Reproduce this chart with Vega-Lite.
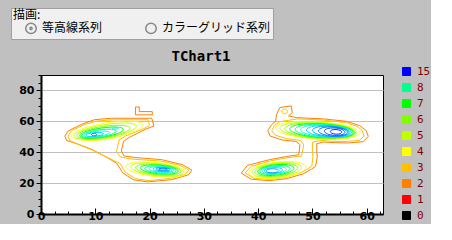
{
 "$schema": "https://vega.github.io/schema/vega-lite/v6.json",
 "background": "#c0c0c0",
 "padding": {"left": 10, "top": 7, "right": 0, "bottom": 0},
 "width": 342,
 "height": 139,
 "title": {"text": "TChart1", "font": "DejaVu Sans Mono", "fontSize": 14, "fontWeight": "bold", "color": "black", "offset": -56, "anchor": "middle", "frame": "group", "dx": -11},
 "view": {"stroke": "black", "strokeWidth": 1, "fill": "white"},
 "datasets": {
  "env": [
   {"r":"EL2","lv":2,"x":4.4,"y":50.5},{"r":"EL2","lv":2,"x":5.0,"y":53.8},{"r":"EL2","lv":2,"x":7.5,"y":58.1},{"r":"EL2","lv":2,"x":9.9,"y":61.1},{"r":"EL2","lv":2,"x":13.0,"y":62.0},{"r":"EL2","lv":2,"x":20.4,"y":62.0},{"r":"EL2","lv":2,"x":20.8,"y":57.0},{"r":"EL2","lv":2,"x":19.2,"y":54.8},{"r":"EL2","lv":2,"x":16.2,"y":49.5},{"r":"EL2","lv":2,"x":15.2,"y":47.0},{"r":"EL2","lv":2,"x":14.8,"y":40.8},{"r":"EL2","lv":2,"x":15.3,"y":37.6},{"r":"EL2","lv":2,"x":17.3,"y":36.6},{"r":"EL2","lv":2,"x":22.2,"y":35.2},{"r":"EL2","lv":2,"x":26.0,"y":32.0},{"r":"EL2","lv":2,"x":27.8,"y":28.4},{"r":"EL2","lv":2,"x":27.2,"y":25.4},{"r":"EL2","lv":2,"x":24.0,"y":22.2},{"r":"EL2","lv":2,"x":19.7,"y":20.8},{"r":"EL2","lv":2,"x":17.0,"y":22.2},{"r":"EL2","lv":2,"x":15.1,"y":26.5},{"r":"EL2","lv":2,"x":13.9,"y":33.0},{"r":"EL2","lv":2,"x":11.7,"y":37.5},{"r":"EL2","lv":2,"x":9.3,"y":41.9},{"r":"EL2","lv":2,"x":6.9,"y":45.1},{"r":"EL2","lv":2,"x":4.7,"y":47.7},
   {"r":"EL3","lv":3,"x":5.0,"y":50.4},{"r":"EL3","lv":3,"x":5.6,"y":53.9},{"r":"EL3","lv":3,"x":7.8,"y":57.6},{"r":"EL3","lv":3,"x":10.2,"y":60.2},{"r":"EL3","lv":3,"x":13.2,"y":61.0},{"r":"EL3","lv":3,"x":19.7,"y":61.0},{"r":"EL3","lv":3,"x":20.0,"y":57.4},{"r":"EL3","lv":3,"x":19.0,"y":55.3},{"r":"EL3","lv":3,"x":15.6,"y":50.6},{"r":"EL3","lv":3,"x":14.4,"y":48.0},{"r":"EL3","lv":3,"x":13.9,"y":40.6},{"r":"EL3","lv":3,"x":14.6,"y":37.0},{"r":"EL3","lv":3,"x":16.6,"y":35.6},{"r":"EL3","lv":3,"x":22.0,"y":34.3},{"r":"EL3","lv":3,"x":25.6,"y":31.5},{"r":"EL3","lv":3,"x":27.2,"y":28.4},{"r":"EL3","lv":3,"x":26.7,"y":25.8},{"r":"EL3","lv":3,"x":23.8,"y":23.0},{"r":"EL3","lv":3,"x":19.8,"y":21.6},{"r":"EL3","lv":3,"x":17.4,"y":22.9},{"r":"EL3","lv":3,"x":15.6,"y":26.8},{"r":"EL3","lv":3,"x":14.6,"y":32.6},{"r":"EL3","lv":3,"x":12.0,"y":37.0},{"r":"EL3","lv":3,"x":9.6,"y":41.2},{"r":"EL3","lv":3,"x":7.2,"y":44.6},{"r":"EL3","lv":3,"x":5.3,"y":47.5},
   {"r":"ELB","lv":2,"x":17.4,"y":64.2},{"r":"ELB","lv":2,"x":17.4,"y":69.3},{"r":"ELB","lv":2,"x":18.1,"y":69.3},{"r":"ELB","lv":2,"x":18.1,"y":66.3},{"r":"ELB","lv":2,"x":20.5,"y":66.3},{"r":"ELB","lv":2,"x":20.5,"y":64.2},
   {"r":"ER2","lv":2,"x":41.8,"y":54.0},{"r":"ER2","lv":2,"x":42.4,"y":57.5},{"r":"ER2","lv":2,"x":43.2,"y":60.0},{"r":"ER2","lv":2,"x":43.4,"y":64.6},{"r":"ER2","lv":2,"x":44.0,"y":68.9},{"r":"ER2","lv":2,"x":46.1,"y":70.0},{"r":"ER2","lv":2,"x":46.3,"y":65.6},{"r":"ER2","lv":2,"x":45.6,"y":63.5},{"r":"ER2","lv":2,"x":47.1,"y":62.4},{"r":"ER2","lv":2,"x":52.0,"y":61.6},{"r":"ER2","lv":2,"x":56.3,"y":60.0},{"r":"ER2","lv":2,"x":58.7,"y":57.2},{"r":"ER2","lv":2,"x":59.9,"y":54.0},{"r":"ER2","lv":2,"x":60.3,"y":50.2},{"r":"ER2","lv":2,"x":59.3,"y":46.8},{"r":"ER2","lv":2,"x":56.6,"y":46.0},{"r":"ER2","lv":2,"x":54.1,"y":46.2},{"r":"ER2","lv":2,"x":52.0,"y":46.6},{"r":"ER2","lv":2,"x":50.8,"y":45.5},{"r":"ER2","lv":2,"x":50.8,"y":39.7},{"r":"ER2","lv":2,"x":50.9,"y":37.5},{"r":"ER2","lv":2,"x":50.6,"y":31.0},{"r":"ER2","lv":2,"x":49.8,"y":29.0},{"r":"ER2","lv":2,"x":48.3,"y":26.0},{"r":"ER2","lv":2,"x":45.2,"y":22.8},{"r":"ER2","lv":2,"x":42.1,"y":21.6},{"r":"ER2","lv":2,"x":38.7,"y":22.5},{"r":"ER2","lv":2,"x":36.9,"y":26.5},{"r":"ER2","lv":2,"x":38.0,"y":31.4},{"r":"ER2","lv":2,"x":42.1,"y":35.2},{"r":"ER2","lv":2,"x":45.2,"y":37.2},{"r":"ER2","lv":2,"x":47.5,"y":38.4},{"r":"ER2","lv":2,"x":47.7,"y":45.0},{"r":"ER2","lv":2,"x":47.0,"y":47.0},{"r":"ER2","lv":2,"x":44.4,"y":47.9},{"r":"ER2","lv":2,"x":42.2,"y":50.5},
   {"r":"ER3","lv":3,"x":42.5,"y":54.0},{"r":"ER3","lv":3,"x":43.0,"y":57.3},{"r":"ER3","lv":3,"x":44.0,"y":59.8},{"r":"ER3","lv":3,"x":47.3,"y":61.6},{"r":"ER3","lv":3,"x":52.0,"y":60.8},{"r":"ER3","lv":3,"x":56.0,"y":59.3},{"r":"ER3","lv":3,"x":58.2,"y":56.8},{"r":"ER3","lv":3,"x":59.2,"y":54.0},{"r":"ER3","lv":3,"x":59.5,"y":50.4},{"r":"ER3","lv":3,"x":58.6,"y":47.6},{"r":"ER3","lv":3,"x":56.5,"y":47.0},{"r":"ER3","lv":3,"x":54.0,"y":47.0},{"r":"ER3","lv":3,"x":51.6,"y":47.6},{"r":"ER3","lv":3,"x":50.0,"y":46.6},{"r":"ER3","lv":3,"x":50.0,"y":39.5},{"r":"ER3","lv":3,"x":50.1,"y":37.5},{"r":"ER3","lv":3,"x":49.9,"y":31.2},{"r":"ER3","lv":3,"x":49.2,"y":29.3},{"r":"ER3","lv":3,"x":47.8,"y":26.6},{"r":"ER3","lv":3,"x":45.0,"y":23.6},{"r":"ER3","lv":3,"x":42.1,"y":22.4},{"r":"ER3","lv":3,"x":39.2,"y":23.2},{"r":"ER3","lv":3,"x":37.6,"y":26.6},{"r":"ER3","lv":3,"x":38.7,"y":30.8},{"r":"ER3","lv":3,"x":42.3,"y":34.4},{"r":"ER3","lv":3,"x":45.3,"y":36.4},{"r":"ER3","lv":3,"x":48.0,"y":37.6},{"r":"ER3","lv":3,"x":48.4,"y":44.8},{"r":"ER3","lv":3,"x":47.8,"y":47.6},{"r":"ER3","lv":3,"x":45.2,"y":48.8},{"r":"ER3","lv":3,"x":43.2,"y":51.0}
  ],
  "rings": [
   {"r":"A4","lv":4,"x":18.8,"y":57.63},{"r":"A4","lv":4,"x":16.89,"y":60.12},{"r":"A4","lv":4,"x":12.2,"y":59.0},{"r":"A4","lv":4,"x":7.51,"y":54.98},{"r":"A4","lv":4,"x":5.6,"y":50.37},{"r":"A4","lv":4,"x":7.51,"y":47.88},{"r":"A4","lv":4,"x":12.2,"y":48.4},{"r":"A4","lv":4,"x":16.89,"y":53.02},
   {"r":"A5","lv":5,"x":17.6,"y":56.76},{"r":"A5","lv":5,"x":15.93,"y":58.9},{"r":"A5","lv":5,"x":11.85,"y":57.9},{"r":"A5","lv":5,"x":7.77,"y":54.4},{"r":"A5","lv":5,"x":6.1,"y":50.44},{"r":"A5","lv":5,"x":7.77,"y":48.3},{"r":"A5","lv":5,"x":11.85,"y":48.9},{"r":"A5","lv":5,"x":15.93,"y":52.8},
   {"r":"A6","lv":6,"x":16.4,"y":55.55},{"r":"A6","lv":6,"x":14.98,"y":57.4},{"r":"A6","lv":6,"x":11.5,"y":56.7},{"r":"A6","lv":6,"x":8.02,"y":53.92},{"r":"A6","lv":6,"x":6.6,"y":50.65},{"r":"A6","lv":6,"x":8.02,"y":48.8},{"r":"A6","lv":6,"x":11.5,"y":49.3},{"r":"A6","lv":6,"x":14.98,"y":52.28},
   {"r":"A7","lv":7,"x":15.2,"y":54.73},{"r":"A7","lv":7,"x":14.03,"y":56.27},{"r":"A7","lv":7,"x":11.15,"y":55.7},{"r":"A7","lv":7,"x":8.27,"y":53.39},{"r":"A7","lv":7,"x":7.1,"y":50.67},{"r":"A7","lv":7,"x":8.27,"y":49.13},{"r":"A7","lv":7,"x":11.15,"y":49.6},{"r":"A7","lv":7,"x":14.03,"y":52.01},
   {"r":"A8","lv":8,"x":13.9,"y":53.64},{"r":"A8","lv":8,"x":12.97,"y":54.85},{"r":"A8","lv":8,"x":10.7,"y":54.5},{"r":"A8","lv":8,"x":8.43,"y":52.81},{"r":"A8","lv":8,"x":7.5,"y":50.76},{"r":"A8","lv":8,"x":8.43,"y":49.55},{"r":"A8","lv":8,"x":10.7,"y":49.9},{"r":"A8","lv":8,"x":12.97,"y":51.59},
   {"r":"A9","lv":9,"x":12.6,"y":52.74},{"r":"A9","lv":9,"x":11.92,"y":53.68},{"r":"A9","lv":9,"x":10.25,"y":53.5},{"r":"A9","lv":9,"x":8.58,"y":52.34},{"r":"A9","lv":9,"x":7.9,"y":50.86},{"r":"A9","lv":9,"x":8.58,"y":49.92},{"r":"A9","lv":9,"x":10.25,"y":50.15},{"r":"A9","lv":9,"x":11.92,"y":51.26},
   {"r":"A10","lv":10,"x":11.5,"y":51.98},{"r":"A10","lv":10,"x":11.04,"y":52.69},{"r":"A10","lv":10,"x":9.9,"y":52.7},{"r":"A10","lv":10,"x":8.76,"y":52.01},{"r":"A10","lv":10,"x":8.3,"y":51.02},{"r":"A10","lv":10,"x":8.76,"y":50.31},{"r":"A10","lv":10,"x":9.9,"y":50.4},{"r":"A10","lv":10,"x":11.04,"y":50.99},
   {"r":"A12","lv":12,"x":10.3,"y":51.4},{"r":"A12","lv":12,"x":10.15,"y":51.95},{"r":"A12","lv":12,"x":9.8,"y":52.2},{"r":"A12","lv":12,"x":9.45,"y":51.95},{"r":"A12","lv":12,"x":9.3,"y":51.4},{"r":"A12","lv":12,"x":9.45,"y":50.85},{"r":"A12","lv":12,"x":9.8,"y":50.6},{"r":"A12","lv":12,"x":10.15,"y":50.85},
   {"r":"A9s","lv":9,"x":14.25,"y":55.4},{"r":"A9s","lv":9,"x":14.09,"y":55.68},{"r":"A9s","lv":9,"x":13.7,"y":55.8},{"r":"A9s","lv":9,"x":13.31,"y":55.68},{"r":"A9s","lv":9,"x":13.15,"y":55.4},{"r":"A9s","lv":9,"x":13.31,"y":55.12},{"r":"A9s","lv":9,"x":13.7,"y":55.0},{"r":"A9s","lv":9,"x":14.09,"y":55.12},
   {"r":"B4","lv":4,"x":26.8,"y":26.84},{"r":"B4","lv":4,"x":25.18,"y":30.68},{"r":"B4","lv":4,"x":21.2,"y":33.4},{"r":"B4","lv":4,"x":17.22,"y":33.46},{"r":"B4","lv":4,"x":15.6,"y":30.76},{"r":"B4","lv":4,"x":17.22,"y":26.92},{"r":"B4","lv":4,"x":21.2,"y":24.2},{"r":"B4","lv":4,"x":25.18,"y":24.14},
   {"r":"B5","lv":5,"x":26.3,"y":27.08},{"r":"B5","lv":5,"x":24.88,"y":30.42},{"r":"B5","lv":5,"x":21.4,"y":32.8},{"r":"B5","lv":5,"x":17.92,"y":32.86},{"r":"B5","lv":5,"x":16.5,"y":30.52},{"r":"B5","lv":5,"x":17.92,"y":27.18},{"r":"B5","lv":5,"x":21.4,"y":24.8},{"r":"B5","lv":5,"x":24.88,"y":24.74},
   {"r":"B6","lv":6,"x":25.8,"y":27.54},{"r":"B6","lv":6,"x":24.58,"y":30.32},{"r":"B6","lv":6,"x":21.6,"y":32.2},{"r":"B6","lv":6,"x":18.62,"y":32.1},{"r":"B6","lv":6,"x":17.4,"y":30.06},{"r":"B6","lv":6,"x":18.62,"y":27.28},{"r":"B6","lv":6,"x":21.6,"y":25.4},{"r":"B6","lv":6,"x":24.58,"y":25.5},
   {"r":"B7","lv":7,"x":25.3,"y":27.75},{"r":"B7","lv":7,"x":24.29,"y":30.07},{"r":"B7","lv":7,"x":21.8,"y":31.65},{"r":"B7","lv":7,"x":19.31,"y":31.57},{"r":"B7","lv":7,"x":18.3,"y":29.85},{"r":"B7","lv":7,"x":19.31,"y":27.53},{"r":"B7","lv":7,"x":21.8,"y":25.95},{"r":"B7","lv":7,"x":24.29,"y":26.03},
   {"r":"B8","lv":8,"x":24.9,"y":28.07},{"r":"B8","lv":8,"x":24.06,"y":29.91},{"r":"B8","lv":8,"x":22.0,"y":31.1},{"r":"B8","lv":8,"x":19.94,"y":30.95},{"r":"B8","lv":8,"x":19.1,"y":29.53},{"r":"B8","lv":8,"x":19.94,"y":27.69},{"r":"B8","lv":8,"x":22.0,"y":26.5},{"r":"B8","lv":8,"x":24.06,"y":26.65},
   {"r":"B9","lv":9,"x":24.5,"y":28.34},{"r":"B9","lv":9,"x":23.83,"y":29.78},{"r":"B9","lv":9,"x":22.2,"y":30.65},{"r":"B9","lv":9,"x":20.57,"y":30.44},{"r":"B9","lv":9,"x":19.9,"y":29.26},{"r":"B9","lv":9,"x":20.57,"y":27.82},{"r":"B9","lv":9,"x":22.2,"y":26.95},{"r":"B9","lv":9,"x":23.83,"y":27.16},
   {"r":"B10","lv":10,"x":24.2,"y":28.53},{"r":"B10","lv":10,"x":23.68,"y":29.6},{"r":"B10","lv":10,"x":22.4,"y":30.2},{"r":"B10","lv":10,"x":21.12,"y":29.98},{"r":"B10","lv":10,"x":20.6,"y":29.07},{"r":"B10","lv":10,"x":21.12,"y":28.0},{"r":"B10","lv":10,"x":22.4,"y":27.4},{"r":"B10","lv":10,"x":23.68,"y":27.62},
   {"r":"B11","lv":11,"x":23.8,"y":28.77},{"r":"B11","lv":11,"x":23.42,"y":29.52},{"r":"B11","lv":11,"x":22.5,"y":29.9},{"r":"B11","lv":11,"x":21.58,"y":29.7},{"r":"B11","lv":11,"x":21.2,"y":29.03},{"r":"B11","lv":11,"x":21.58,"y":28.28},{"r":"B11","lv":11,"x":22.5,"y":27.9},{"r":"B11","lv":11,"x":23.42,"y":28.1},
   {"r":"B12","lv":12,"x":23.3,"y":29.0},{"r":"B12","lv":12,"x":23.07,"y":29.43},{"r":"B12","lv":12,"x":22.5,"y":29.6},{"r":"B12","lv":12,"x":21.93,"y":29.43},{"r":"B12","lv":12,"x":21.7,"y":29.0},{"r":"B12","lv":12,"x":21.93,"y":28.57},{"r":"B12","lv":12,"x":22.5,"y":28.4},{"r":"B12","lv":12,"x":23.07,"y":28.57},
   {"r":"C4","lv":4,"x":58.7,"y":52.65},{"r":"C4","lv":4,"x":56.45,"y":57.08},{"r":"C4","lv":4,"x":50.95,"y":59.8},{"r":"C4","lv":4,"x":45.45,"y":59.28},{"r":"C4","lv":4,"x":43.2,"y":55.75},{"r":"C4","lv":4,"x":45.45,"y":51.32},{"r":"C4","lv":4,"x":50.95,"y":48.6},{"r":"C4","lv":4,"x":56.45,"y":49.12},
   {"r":"C5","lv":5,"x":58.2,"y":52.68},{"r":"C5","lv":5,"x":56.14,"y":56.78},{"r":"C5","lv":5,"x":51.1,"y":59.3},{"r":"C5","lv":5,"x":46.06,"y":58.8},{"r":"C5","lv":5,"x":44.0,"y":55.52},{"r":"C5","lv":5,"x":46.06,"y":51.42},{"r":"C5","lv":5,"x":51.1,"y":48.9},{"r":"C5","lv":5,"x":56.14,"y":49.4},
   {"r":"C6","lv":6,"x":57.9,"y":52.7},{"r":"C6","lv":6,"x":56.02,"y":56.49},{"r":"C6","lv":6,"x":51.4,"y":58.8},{"r":"C6","lv":6,"x":46.78,"y":58.33},{"r":"C6","lv":6,"x":44.9,"y":55.3},{"r":"C6","lv":6,"x":46.78,"y":51.51},{"r":"C6","lv":6,"x":51.4,"y":49.2},{"r":"C6","lv":6,"x":56.02,"y":49.67},
   {"r":"C7","lv":7,"x":57.7,"y":52.71},{"r":"C7","lv":7,"x":55.97,"y":56.22},{"r":"C7","lv":7,"x":51.75,"y":58.35},{"r":"C7","lv":7,"x":47.53,"y":57.9},{"r":"C7","lv":7,"x":45.8,"y":55.09},{"r":"C7","lv":7,"x":47.53,"y":51.58},{"r":"C7","lv":7,"x":51.75,"y":49.45},{"r":"C7","lv":7,"x":55.97,"y":49.9},
   {"r":"C8","lv":8,"x":57.45,"y":52.73},{"r":"C8","lv":8,"x":55.91,"y":55.99},{"r":"C8","lv":8,"x":52.13,"y":57.95},{"r":"C8","lv":8,"x":48.35,"y":57.51},{"r":"C8","lv":8,"x":46.8,"y":54.87},{"r":"C8","lv":8,"x":48.35,"y":51.61},{"r":"C8","lv":8,"x":52.13,"y":49.65},{"r":"C8","lv":8,"x":55.91,"y":50.09},
   {"r":"C9","lv":9,"x":57.2,"y":52.76},{"r":"C9","lv":9,"x":55.84,"y":55.76},{"r":"C9","lv":9,"x":52.5,"y":57.55},{"r":"C9","lv":9,"x":49.16,"y":57.1},{"r":"C9","lv":9,"x":47.8,"y":54.64},{"r":"C9","lv":9,"x":49.16,"y":51.64},{"r":"C9","lv":9,"x":52.5,"y":49.85},{"r":"C9","lv":9,"x":55.84,"y":50.3},
   {"r":"C10","lv":10,"x":56.95,"y":52.79},{"r":"C10","lv":10,"x":55.79,"y":55.55},{"r":"C10","lv":10,"x":52.93,"y":57.15},{"r":"C10","lv":10,"x":50.07,"y":56.69},{"r":"C10","lv":10,"x":48.9,"y":54.41},{"r":"C10","lv":10,"x":50.07,"y":51.65},{"r":"C10","lv":10,"x":52.93,"y":50.05},{"r":"C10","lv":10,"x":55.79,"y":50.51},
   {"r":"C11","lv":11,"x":56.7,"y":52.83},{"r":"C11","lv":11,"x":55.73,"y":55.33},{"r":"C11","lv":11,"x":53.35,"y":56.75},{"r":"C11","lv":11,"x":50.97,"y":56.29},{"r":"C11","lv":11,"x":50.0,"y":54.17},{"r":"C11","lv":11,"x":50.97,"y":51.67},{"r":"C11","lv":11,"x":53.35,"y":50.25},{"r":"C11","lv":11,"x":55.73,"y":50.71},
   {"r":"C12","lv":12,"x":56.45,"y":52.86},{"r":"C12","lv":12,"x":55.68,"y":55.11},{"r":"C12","lv":12,"x":53.78,"y":56.35},{"r":"C12","lv":12,"x":51.88,"y":55.87},{"r":"C12","lv":12,"x":51.1,"y":53.94},{"r":"C12","lv":12,"x":51.88,"y":51.69},{"r":"C12","lv":12,"x":53.78,"y":50.45},{"r":"C12","lv":12,"x":55.68,"y":50.93},
   {"r":"C13","lv":13,"x":56.0,"y":52.92},{"r":"C13","lv":13,"x":55.45,"y":54.73},{"r":"C13","lv":13,"x":54.1,"y":55.7},{"r":"C13","lv":13,"x":52.75,"y":55.27},{"r":"C13","lv":13,"x":52.2,"y":53.68},{"r":"C13","lv":13,"x":52.75,"y":51.87},{"r":"C13","lv":13,"x":54.1,"y":50.9},{"r":"C13","lv":13,"x":55.45,"y":51.33},
   {"r":"C14","lv":14,"x":55.4,"y":52.99},{"r":"C14","lv":14,"x":55.1,"y":54.12},{"r":"C14","lv":14,"x":54.35,"y":54.7},{"r":"C14","lv":14,"x":53.6,"y":54.42},{"r":"C14","lv":14,"x":53.3,"y":53.41},{"r":"C14","lv":14,"x":53.6,"y":52.28},{"r":"C14","lv":14,"x":54.35,"y":51.7},{"r":"C14","lv":14,"x":55.1,"y":51.98},
   {"r":"D4","lv":4,"x":48.8,"y":30.34},{"r":"D4","lv":4,"x":47.28,"y":33.5},{"r":"D4","lv":4,"x":43.55,"y":33.7},{"r":"D4","lv":4,"x":39.82,"y":30.88},{"r":"D4","lv":4,"x":38.3,"y":26.66},{"r":"D4","lv":4,"x":39.82,"y":23.5},{"r":"D4","lv":4,"x":43.55,"y":23.3},{"r":"D4","lv":4,"x":47.28,"y":26.12},
   {"r":"D5","lv":5,"x":48.0,"y":30.09},{"r":"D5","lv":5,"x":46.68,"y":32.9},{"r":"D5","lv":5,"x":43.45,"y":33.1},{"r":"D5","lv":5,"x":40.22,"y":30.64},{"r":"D5","lv":5,"x":38.9,"y":26.91},{"r":"D5","lv":5,"x":40.22,"y":24.1},{"r":"D5","lv":5,"x":43.45,"y":23.9},{"r":"D5","lv":5,"x":46.68,"y":26.36},
   {"r":"D6","lv":6,"x":47.3,"y":29.88},{"r":"D6","lv":6,"x":46.15,"y":32.32},{"r":"D6","lv":6,"x":43.35,"y":32.5},{"r":"D6","lv":6,"x":40.55,"y":30.36},{"r":"D6","lv":6,"x":39.4,"y":27.12},{"r":"D6","lv":6,"x":40.55,"y":24.68},{"r":"D6","lv":6,"x":43.35,"y":24.5},{"r":"D6","lv":6,"x":46.15,"y":26.64},
   {"r":"D7","lv":7,"x":46.6,"y":29.67},{"r":"D7","lv":7,"x":45.63,"y":31.74},{"r":"D7","lv":7,"x":43.25,"y":31.9},{"r":"D7","lv":7,"x":40.87,"y":30.08},{"r":"D7","lv":7,"x":39.9,"y":27.33},{"r":"D7","lv":7,"x":40.87,"y":25.26},{"r":"D7","lv":7,"x":43.25,"y":25.1},{"r":"D7","lv":7,"x":45.63,"y":26.92},
   {"r":"D8","lv":8,"x":45.9,"y":29.34},{"r":"D8","lv":8,"x":45.09,"y":31.09},{"r":"D8","lv":8,"x":43.1,"y":31.3},{"r":"D8","lv":8,"x":41.11,"y":29.89},{"r":"D8","lv":8,"x":40.3,"y":27.66},{"r":"D8","lv":8,"x":41.11,"y":25.91},{"r":"D8","lv":8,"x":43.1,"y":25.7},{"r":"D8","lv":8,"x":45.09,"y":27.11},
   {"r":"D9","lv":9,"x":45.2,"y":28.96},{"r":"D9","lv":9,"x":44.55,"y":30.43},{"r":"D9","lv":9,"x":42.95,"y":30.7},{"r":"D9","lv":9,"x":41.35,"y":29.63},{"r":"D9","lv":9,"x":40.7,"y":27.84},{"r":"D9","lv":9,"x":41.35,"y":26.37},{"r":"D9","lv":9,"x":42.95,"y":26.1},{"r":"D9","lv":9,"x":44.55,"y":27.17},
   {"r":"D10","lv":10,"x":44.5,"y":28.54},{"r":"D10","lv":10,"x":44.01,"y":29.72},{"r":"D10","lv":10,"x":42.8,"y":30.0},{"r":"D10","lv":10,"x":41.59,"y":29.24},{"r":"D10","lv":10,"x":41.1,"y":27.86},{"r":"D10","lv":10,"x":41.59,"y":26.68},{"r":"D10","lv":10,"x":42.8,"y":26.4},{"r":"D10","lv":10,"x":44.01,"y":27.16},
   {"r":"D11","lv":11,"x":43.8,"y":28.12},{"r":"D11","lv":11,"x":43.47,"y":29.0},{"r":"D11","lv":11,"x":42.65,"y":29.3},{"r":"D11","lv":11,"x":41.83,"y":28.84},{"r":"D11","lv":11,"x":41.5,"y":27.88},{"r":"D11","lv":11,"x":41.83,"y":27.0},{"r":"D11","lv":11,"x":42.65,"y":26.7},{"r":"D11","lv":11,"x":43.47,"y":27.16},
   {"r":"E3","lv":3,"x":45.4,"y":66.5},{"r":"E3","lv":3,"x":45.25,"y":67.57},{"r":"E3","lv":3,"x":44.9,"y":68.0},{"r":"E3","lv":3,"x":44.55,"y":67.57},{"r":"E3","lv":3,"x":44.4,"y":66.5},{"r":"E3","lv":3,"x":44.55,"y":65.43},{"r":"E3","lv":3,"x":44.9,"y":65.0},{"r":"E3","lv":3,"x":45.25,"y":65.43}
  ],
  "series": [{"s": "等高線系列"}, {"s": "カラーグリッド系列"}]
 },
 "encoding": {
  "x": {"field": "x", "type": "quantitative", "scale": {"domain": [0, 63], "nice": false, "zero": false},
   "axis": {"title": null, "values": [0,2.5,5,7.5,10,12.5,15,17.5,20,22.5,25,27.5,30,32.5,35,37.5,40,42.5,45,47.5,50,52.5,55,57.5,60,62.5],
    "labelExpr": "datum.value % 10 === 0 ? datum.label : ''",
    "tickSize": {"condition": {"test": "datum.value % 10 === 0", "value": -6}, "value": -3},
    "tickColor": "black", "domainColor": "black", "domainWidth": 2, "grid": false,
    "labelFont": "DejaVu Sans", "labelFontSize": 11, "labelFontWeight": "bold", "labelColor": "black", "labelPadding": 2, "labelFlush": false, "labelOverlap": false}},
  "y": {"field": "y", "type": "quantitative", "scale": {"domain": [0, 90], "nice": false},
   "axis": {"title": null,
    "values": [0,5,10,15,20,25,30,35,40,45,50,55,60,65,70,75,80,85,90],
    "labelExpr": "datum.value % 20 === 0 ? datum.label : ''",
    "tickSize": {"condition": {"test": "datum.value % 20 === 0", "value": 5}, "value": 3},
    "grid": true,
    "gridColor": {"condition": {"test": "datum.value % 20 === 0 && datum.value > 0", "value": "#c0c0c0"}, "value": "transparent"},
    "tickColor": "black", "domainColor": "black", "domainWidth": 2,
    "labelFont": "DejaVu Sans", "labelFontSize": 11, "labelFontWeight": "bold", "labelColor": "black", "labelPadding": 2, "labelOverlap": false}},
  "detail": {"field": "r", "type": "nominal"},
  "color": {"field": "lv", "type": "ordinal",
   "scale": {"domain": [15,14,13,12,11,10,9,8,7,6,5,4,3,2,1,0],
    "range": ["#0000ff","#0030ff","#0050ff","#0080ff","#00a8ff","#00d0ff","#00ffe0","#00ff90","#00ff00","#80ff00","#c0ff00","#ffff00","#ffc000","#ff8000","#ff0000","#000000"]},
   "legend": {"orient": "none", "legendX": 360, "legendY": -9, "title": null, "values": [15,8,7,6,5,4,3,2,1,0],
    "symbolType": "square", "symbolSize": 64, "symbolStrokeWidth": 1,
    "labelFont": "DejaVu Sans Mono", "labelFontSize": 11, "labelColor": "#800000", "labelOffset": 5, "rowPadding": 3,
    "labelExpr": "datum.value < 10 ? '\u00a0' + datum.label : datum.label",
    "encode": {"symbols": {"update": {"fill": {"scale": "color", "field": "value"}, "stroke": {"value": "black"}, "strokeWidth": {"value": 1}, "opacity": {"value": 1}}}}}},
  "order": {"value": null}
 },
 "layer": [
  {"data": {"name": "env"}, "mark": {"type": "line", "interpolate": "linear-closed", "strokeWidth": 1}},
  {"data": {"name": "rings"}, "mark": {"type": "line", "interpolate": "cardinal-closed", "strokeWidth": 1}},
  {"data": {"name": "series"}, "mark": {"type": "point", "opacity": 0},
   "encoding": {"shape": {"field": "s", "type": "nominal", "sort": null,
    "scale": {"domain": ["等高線系列", "カラーグリッド系列"], "range": ["M-1,0A1,1 0 1,1 1,0A1,1 0 1,1 -1,0ZM-0.2,0A0.2,0.2 0 1,1 0.2,0A0.2,0.2 0 1,1 -0.2,0Z", "circle"]},
    "legend": {"orient": "none", "legendX": -30, "legendY": -67, "direction": "horizontal", "title": "\u2002描画:",
     "titleFont": "Noto Sans CJK JP", "titleFontSize": 12, "titleFontWeight": "normal", "titleColor": "black", "titlePadding": 0,
     "labelFont": "Noto Sans CJK JP", "labelFontSize": 12, "labelColor": "black", "labelOffset": 5,
     "symbolSize": 110, "symbolOffset": 12, "columnPadding": 30,
     "strokeColor": "#a0a0a0", "fillColor": "#f0f0f0", "padding": 2,
     "encode": {"symbols": {"update": {"fill": {"value": "white"}, "stroke": {"value": "black"}, "strokeWidth": {"value": 1}, "opacity": {"value": 1}}}}}}}}
 ]
}
